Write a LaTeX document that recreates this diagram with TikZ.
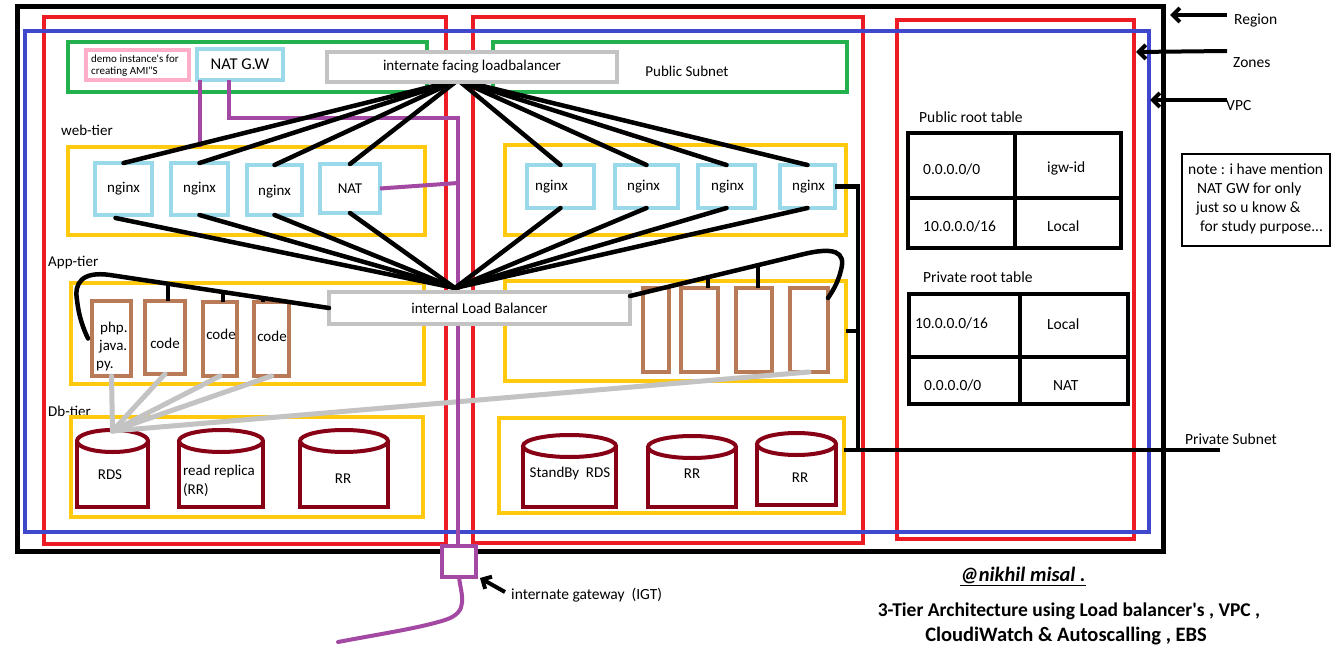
\documentclass[tikz,border=0pt]{standalone}
\usepackage{fontspec}
\setmainfont{Carlito}[Ligatures=TeXOff]
\usetikzlibrary{arrows.meta,calc}
\definecolor{zred}{HTML}{ED1C24}
\definecolor{vblue}{HTML}{3F48CC}
\definecolor{sgreen}{HTML}{22B14C}
\definecolor{tyellow}{HTML}{FFC90E}
\definecolor{lblue}{HTML}{99D9EA}
\definecolor{brownb}{HTML}{B97A57}
\definecolor{lgray}{HTML}{C3C3C3}
\definecolor{purp}{HTML}{A349A4}
\definecolor{dred}{HTML}{880015}
\definecolor{pinkb}{HTML}{FFAEC9}
\newcommand\fs[1]{\fontsize{#1}{#1}\selectfont}
\newcommand\Bx[8][]{\node[#2, minimum width={(#5-#3)*1pt}, minimum height={(#6-#4)*1pt}, inner sep=0pt, outer sep=0pt, #1] (#7) at ({(#3+#5)/2},{(#4+#6)/2}) {#8};}
\newcommand\Cyl[5]{%
  \draw[db] ({(#2+#3)/2},{#4+11}) ellipse [x radius={(#3-#2)/2}, y radius=11];
  \draw[db] (#2,{#4+11}) -- (#2,#5) -- (#3,#5) -- (#3,{#4+11});
  \coordinate (#1) at ({(#2+#3)/2},{#4+1});}
\tikzset{
  reg/.style={draw=black, line width=5pt},
  zone/.style={draw=zred, line width=4pt},
  vpc/.style={draw=vblue, line width=4pt},
  pub/.style={draw=sgreen, line width=4pt},
  tier/.style={draw=tyellow, line width=4pt},
  inst/.style={draw=lblue, line width=4.5pt, fill=white, font=\fs{15}},
  appbox/.style={draw=brownb, line width=4pt, fill=white},
  pinkst/.style={draw=pinkb, line width=3.5pt},
  lbbox/.style={draw=lgray, line width=4.5pt, fill=white, font=\fs{15}},
  conn/.style={draw=black, line width=4.5pt, line cap=round},
  gconn/.style={draw=lgray, line width=5pt, line cap=round},
  pconn/.style={draw=purp, line width=4pt},
  db/.style={draw=dred, line width=4pt},
  tbl/.style={draw=black, line width=4.5pt},
  notebox/.style={draw=black, line width=1.2pt},
  txt/.style={font=\fs{15}, inner sep=0pt},
  ltxt/.style={txt, anchor=west},
  ttxt/.style={font=\fs{15.5}, inner sep=0pt, anchor=west},
  arr/.style={draw=black, line width=4pt, -{Straight Barb[length=7pt,width=14pt]}},
}
\begin{document}
\begin{tikzpicture}[x=1pt,y=-1pt]
\useasboundingbox[fill=white] (0,0) rectangle (1332,647);
% containers
\Bx{reg}{17}{7}{1163}{551}{region}{}
\Bx{zone}{44}{17}{446}{544}{zoneA}{}
\Bx{zone}{473}{17}{863}{543}{zoneB}{}
\Bx{zone}{897}{20}{1134}{539}{zoneC}{}
\Bx{vpc}{25}{31}{1149}{532}{vpc}{}
% public subnets
\Bx{pub}{68}{42}{427}{92}{pubA}{}
\Bx{pub}{493}{42}{847}{92}{pubB}{}
\node[txt] (pubtxt) at (687,71) {Public Subnet};
\Bx{pinkst}{86}{50}{189}{80}{demo}{}
\node[ltxt, font=\fs{11}] (demo1) at (91,59) {demo instance's for};
\node[ltxt, font=\fs{11}] (demo2) at (91,72) {creating AMI"S};
\Bx[font=\fs{16.5}]{inst}{197}{49}{283}{80}{natgw}{NAT G.W}
% tier labels
\node[ltxt] (webl) at (61,130) {web-tier};
\node[ltxt] (appl) at (48,263) {App-tier};
\node[ltxt] (dbl) at (48,411) {Db-tier};
% tier boxes
\Bx{tier}{68}{147}{425}{235}{webL}{}
\Bx{tier}{505}{145}{846}{235}{webR}{}
\Bx{tier}{71}{283}{424}{384}{appL}{}
\Bx{tier}{505}{281}{846}{381}{appR}{}
\Bx{tier}{71}{417}{423}{517}{dbL}{}
\Bx{tier}{499}{418}{844}{513}{dbR}{}
% web instances
\Bx{inst}{95}{163}{152}{215}{ng1}{nginx}
\Bx{inst}{171}{163}{228}{215}{ng2}{nginx}
\Bx[text depth=0pt]{inst}{247}{165}{302}{215}{ng3}{nginx}
\Bx{inst}{320}{164}{380}{213}{nat}{NAT}
\Bx{inst}{527}{165}{594}{208}{ng5}{\hspace*{-18pt}nginx}
\Bx{inst}{615}{165}{678}{208}{ng6}{\hspace*{-6pt}nginx}
\Bx{inst}{698}{165}{755}{208}{ng7}{\hspace*{2pt}nginx}
\Bx{inst}{780}{165}{835}{208}{ng8}{\hspace*{2pt}nginx}
% app instances
\Bx{appbox}{92}{301}{131}{376}{ap1}{}
\node[ltxt] (php) at (100,328) {php.};
\node[ltxt] (java) at (99,347) {java.};
\node[ltxt] (py) at (96,366) {py.};
\Bx{appbox}{145}{301}{185}{374}{ap2}{}
\node[txt] (code2) at (165,343) {code};
\Bx{appbox}{203}{302}{237}{376}{ap3}{}
\node[txt] (code3) at (221,334) {code};
\Bx{appbox}{254}{302}{289}{376}{ap4}{}
\node[txt] (code4) at (272,336) {code};
\Bx{appbox}{643}{288}{669}{372}{ra1}{}
\Bx{appbox}{681}{288}{718}{372}{ra2}{}
\Bx{appbox}{736}{288}{772}{372}{ra3}{}
\Bx{appbox}{790}{288}{828}{372}{ra4}{}
% databases
\Cyl{rdstop}{77}{148}{430}{507}
\Cyl{rr1top}{179}{263}{430}{507}
\Cyl{rr2top}{300}{388}{430}{507}
\Cyl{sbtop}{523}{616}{435}{507}
\Cyl{rr3top}{648}{736}{436}{507}
\Cyl{rr4top}{757}{836}{433}{505}
\node[txt] (rdst) at (110,475) {RDS};
\node[ltxt] (rr1a) at (183,471) {read replica};
\node[ltxt] (rr1b) at (183,490) {(RR)};
\node[txt] (rr2t) at (343,479) {RR};
\node[txt] (sbt) at (570,473) {StandBy\ \ RDS};
\node[txt] (rr3t) at (692,474) {RR};
\node[txt] (rr4t) at (800,478) {RR};
% gray connectors
\foreach \n in {ap1,ap2,ap3,ap4,ra4} \draw[gconn] (\n.south) -- (rdstop);
% purple connectors
\Bx[fill=white]{pconn}{442}{546}{476}{577}{igw}{}
\coordinate (np1) at ($(natgw.south west)+(3,0)$);
\coordinate (np2) at ($(natgw.south west)+(32,0)$);
\coordinate (pt1) at (458,118);
\coordinate (pj) at (458,183);
\coordinate (inet) at (338,642);
\draw[pconn] (np1) -- (np1 |- webL.north);
\draw[pconn] (np2) |- (pt1) -- (pt1 |- igw.north);
\draw[pconn] (nat.east) -- (pj);
\draw[pconn, line cap=round] (igw.south) .. controls (461,595) and (470,612) .. (445,620) .. controls (420,628) and (380,634) .. (inet);
% black connectors from load balancers
\coordinate (elbc) at (458,80);
\coordinate (ilbc) at (455,288);
\foreach \n in {ng1,ng2,ng3,nat,ng5,ng6,ng7,ng8} \draw[conn] (elbc) -- (\n.north);
\draw[conn] ($(ng1.south)+(-8,3)$) -- (ilbc);
\foreach \n in {ng2,ng3,nat,ng5,ng6,ng7,ng8} \draw[conn] (\n.south) -- (ilbc);
% app tier links
\Bx{lbbox}{329}{292}{630}{324}{ilb}{internal Load Balancer}
\coordinate (lc) at (110,275);
\coordinate (lend) at ($(ap1.west)+(-4,0)$);
\draw[conn] (ilb.west) -- (lc) .. controls (82,271) and (74,283) .. (77,300) .. controls (79,318) and (84,330) .. (lend);
\coordinate (s1) at ($(ilb.west)!0.735!(lc)$);
\coordinate (s2) at ($(ilb.west)!0.484!(lc)$);
\coordinate (s3) at ($(ilb.west)!0.301!(lc)$);
\draw[conn, line cap=butt] (s1) -- (s1 |- ap2.north);
\draw[conn, line cap=butt] (s2) -- (s2 |- ap3.north);
\draw[conn, line cap=butt] (s3) -- (s3 |- ap4.north);
\coordinate (rstart) at ($(ilb.north east)+(0,4)$);
\coordinate (rc) at (800,255);
\coordinate (rend) at ($(ra4.north east)+(0,10)$);
\draw[conn] (rstart) -- (rc) .. controls (835,246) and (846,252) .. (841,270) .. controls (838,283) and (832,292) .. (rend);
\coordinate (r1) at ($(rstart)!0.459!(rc)$);
\coordinate (r2) at ($(rstart)!0.753!(rc)$);
\draw[conn, line cap=butt] (r1) -- (r1 |- ra2.north);
\draw[conn, line cap=butt] (r2) -- (r2 |- ra3.north);
% right bus
\coordinate (busT) at (858,183);
\coordinate (busB) at (858,450);
\coordinate (psEnd) at (1220,450);
\draw[conn, line cap=butt] (ng8.east) -- (ng8.east -| busT) -- (busB);
\draw[conn, line cap=butt] (appR.east) -- (appR.east -| busT);
\draw[conn, line cap=butt] (dbR.east |- psEnd) -- (psEnd);
\node[ltxt, font=\fs{15.5}] (privsub) at (1185,439) {Private Subnet};
% external load balancer
\Bx{lbbox}{327}{52}{617}{82}{elb}{internate facing loadbalancer}
% right side labels
\coordinate (regT) at (1227,15); \coordinate (regH) at (1170,15);
\coordinate (zonT) at (1227,51); \coordinate (zonH) at (1136,52);
\coordinate (vpcT) at (1227,100); \coordinate (vpcH) at (1150,100);
\draw[arr] (regT) -- (regH);
\draw[arr] (zonT) -- (zonH);
\draw[arr] (vpcT) -- (vpcH);
\node[ltxt, font=\fs{15.5}] (regl) at (1234,21) {Region};
\node[ltxt, font=\fs{15.5}] (zonl) at (1233,63) {Zones};
\node[ltxt, font=\fs{15.5}] (vpcl) at (1226,106) {VPC};
% route tables
\node[ttxt] (pubrt) at (919,117) {Public root table};
\Bx{tbl}{908}{133}{1121}{248}{pubT}{}
\draw[tbl] (1015,133) -- (1015,248);
\draw[tbl] (908,198) -- (1121,198);
\node[ttxt] (p11) at (923,169) {0.0.0.0/0};
\node[ttxt] (p12) at (1047,168) {igw-id};
\node[ttxt] (p21) at (923,226) {10.0.0.0/16};
\node[ttxt] (p22) at (1047,226) {Local};
\node[ttxt] (privrt) at (923,277) {Private root table};
\Bx{tbl}{909}{294}{1128}{404}{privT}{}
\draw[tbl] (1020,294) -- (1020,404);
\draw[tbl] (909,357) -- (1128,357);
\node[ttxt] (q11) at (915,323) {10.0.0.0/16};
\node[ttxt] (q12) at (1047,324) {Local};
\node[ttxt] (q21) at (924,385) {0.0.0.0/0};
\node[ttxt] (q22) at (1053,386) {NAT};
% note
\Bx{notebox}{1182}{154}{1330}{246}{note}{}
\node[ttxt] (n1) at (1188,169) {note : i have mention};
\node[ttxt] (n2) at (1197,189) {NAT GW for only};
\node[ttxt] (n3) at (1196,208) {just so u know \&};
\node[ttxt] (n4) at (1200,227) {for study purpose...};
% internet gateway label
\coordinate (igtT) at (505,592);
\coordinate (igtH) at ($(igw.south east)+(4,1)$);
\draw[arr] (igtT) -- (igtH);
\node[ltxt, font=\fs{15.5}] (igtl) at (511,595) {internate gateway\ \ (IGT)};
% credits
\node[txt, font=\fs{20.5}\bfseries\itshape] (auth) at (1023,576) {\underline{@nikhil misal .}};
\node[txt, font=\fs{19.5}\bfseries] (title1) at (1069,611) {3-Tier Architecture using Load balancer's , VPC ,};
\node[txt, font=\fs{20.5}\bfseries] (title2) at (1066,636) {CloudiWatch \& Autoscalling , EBS};
\end{tikzpicture}
\end{document}
